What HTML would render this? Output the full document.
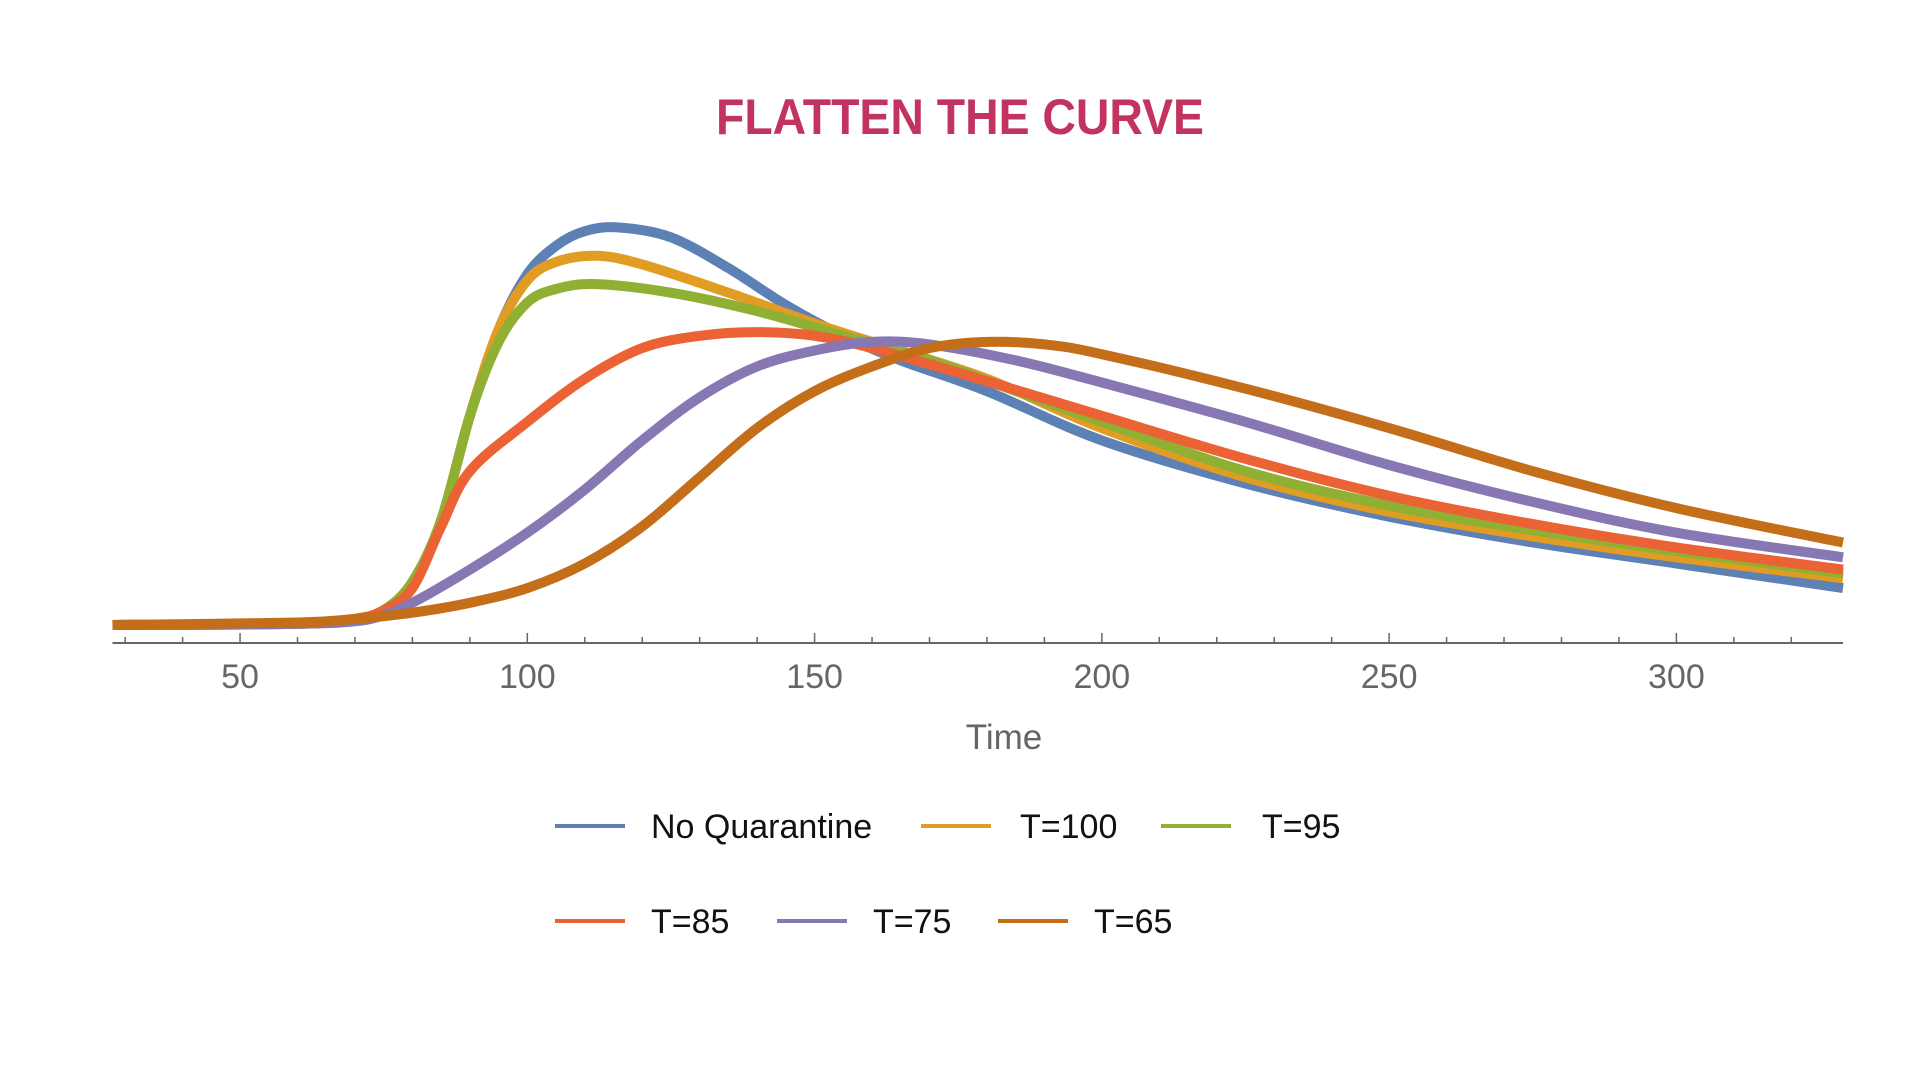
<!DOCTYPE html>
<html><head><meta charset="utf-8"><style>
html,body{margin:0;padding:0;background:#fff;}
svg{display:block;}
</style></head><body>
<svg id="chart" width="1920" height="1080" viewBox="0 0 1920 1080" xmlns="http://www.w3.org/2000/svg">
<text x="960" y="134" text-anchor="middle" font-family="'Liberation Sans', sans-serif" font-weight="bold" font-size="50" fill="#c2345f" textLength="488" lengthAdjust="spacingAndGlyphs">FLATTEN THE CURVE</text>
<g id="series"></g>
<g id="axis"></g>
<text x="1004" y="749" text-anchor="middle" font-family="'Liberation Sans', sans-serif" font-size="35" fill="#666">Time</text>
<g id="legend"></g>
</svg>
<script>
const seriesNames = ["No Quarantine","T=100","T=95","T=85","T=75","T=65"];
const seriesColors = ["#5e81b5","#e19c24","#8fb032","#eb6235","#8778b3","#c56e1a"];
const tickValues = [50,100,150,200,250,300];
const blueT = [27.8,60,70,75,80,85,90,95,100,105,110,116,125,135,145,155,165,180,200,225,250,275,300,329];
const blueV = [0,1,5,12,35,85,170,240,285,308,320,323,315,290,260,235,215,190,150,115,88,67,50,30];
const orangeT = [27.8,60,70,75,80,85,90,95,100,105,112,120,135,150,160,180,200,225,250,275,300,329];
const orangeV = [0,1,5,12,35,85,170,240,280,295,300,293,270,245,230,200,160,120,92,72,55,38];
const greenT = [27.8,60,70,75,80,85,90,95,100,105,112,125,140,155,170,200,225,250,275,300,329];
const greenV = [0,1,5,12,35,85,170,230,262,273,277,270,255,235,215,165,125,97,77,60,42];
const redT = [27.8,60,70,75,80,85,90,100,110,120,130,140,150,160,175,200,225,250,275,300,329];
const redV = [0,1,5,12,30,80,125,165,200,225,235,238,235,225,205,170,135,105,82,63,45];
const purpleT = [27.8,60,70,75,80,90,100,110,120,130,140,150,160,170,185,200,225,250,275,300,329];
const purpleV = [0,1,3,8,18,45,75,110,150,185,210,223,230,228,215,197,165,130,100,75,55];
const brownT = [27.8,60,70,80,90,100,110,120,130,140,150,160,170,180,190,200,225,250,275,300,329];
const brownV = [0,2,5,10,18,30,50,80,120,160,190,210,225,230,228,220,192,160,125,95,67];

const allT = [blueT,orangeT,greenT,redT,purpleT,brownT];
const allV = [blueV,orangeV,greenV,redV,purpleV,brownV];
const NS = "http://www.w3.org/2000/svg";
const xMin = 27.8, xMax = 329;
const X0 = 112.5, X1 = 1843;
function xScale(t){ return X0 + (t - xMin) * (X1 - X0) / (xMax - xMin); }
const Y0 = 625;
function yScale(v){ return Y0 - v / 0.8125; }

function pathFrom(ts, vs){
  const p = ts.map((t,i)=>[xScale(t), yScale(vs[i])]);
  let d = "M" + p[0][0].toFixed(1) + "," + p[0][1].toFixed(1);
  for (let i=0;i<p.length-1;i++){
    const p0 = p[i-1]||p[i], p1=p[i], p2=p[i+1], p3=p[i+2]||p2;
    const c1x = p1[0]+(p2[0]-p0[0])/6, c1y = p1[1]+(p2[1]-p0[1])/6;
    const c2x = p2[0]-(p3[0]-p1[0])/6, c2y = p2[1]-(p3[1]-p1[1])/6;
    d += " C"+c1x.toFixed(1)+","+c1y.toFixed(1)+" "+c2x.toFixed(1)+","+c2y.toFixed(1)+" "+p2[0].toFixed(1)+","+p2[1].toFixed(1);
  }
  return d;
}
const sg = document.getElementById("series");
for (let s=0;s<allT.length;s++){
  const el = document.createElementNS(NS,"path");
  el.setAttribute("d", pathFrom(allT[s], allV[s]));
  el.setAttribute("fill","none");
  el.setAttribute("stroke", seriesColors[s]);
  el.setAttribute("stroke-width","10");
  el.setAttribute("stroke-linecap","butt");
  
  
  sg.appendChild(el);
}
const ag = document.getElementById("axis");
const axisY = 643;
const base = document.createElementNS(NS,"line");
base.setAttribute("x1",X0); base.setAttribute("x2",X1);
base.setAttribute("y1",axisY); base.setAttribute("y2",axisY);
base.setAttribute("stroke","#666"); base.setAttribute("stroke-width","2");


ag.appendChild(base);
for (let t=30;t<=329;t+=10){
  const major = t%50===0;
  const tk = document.createElementNS(NS,"line");
  tk.setAttribute("x1",xScale(t)); tk.setAttribute("x2",xScale(t));
  tk.setAttribute("y1",axisY); tk.setAttribute("y2",axisY-(major?10:6));
  tk.setAttribute("stroke","#666"); tk.setAttribute("stroke-width","1.5");
  
  
  ag.appendChild(tk);
}
tickValues.forEach(v=>{
  const tx = document.createElementNS(NS,"text");
  tx.setAttribute("x",xScale(v)); tx.setAttribute("y",688);
  tx.setAttribute("text-anchor","middle");
  tx.setAttribute("font-family","'Liberation Sans', sans-serif");
  tx.setAttribute("font-size","34"); tx.setAttribute("fill","#666");
  tx.textContent = v;
  
  
  ag.appendChild(tx);
});
const legendPos = [[555,826,651],[921,826,1020],[1161,826,1262],[555,921,651],[777,921,873],[998,921,1094]];
const lg = document.getElementById("legend");
for (let s=0;s<seriesNames.length;s++){
  const [lx,ly,tx0] = legendPos[s];
  const g = document.createElementNS(NS,"g");
  
  
  const ln = document.createElementNS(NS,"line");
  ln.setAttribute("x1",lx); ln.setAttribute("x2",lx+70);
  ln.setAttribute("y1",ly); ln.setAttribute("y2",ly);
  ln.setAttribute("stroke",seriesColors[s]); ln.setAttribute("stroke-width","4");
  
  
  g.appendChild(ln);
  const tt = document.createElementNS(NS,"text");
  tt.setAttribute("x",tx0); tt.setAttribute("y",ly+12);
  tt.setAttribute("font-family","'Liberation Sans', sans-serif");
  tt.setAttribute("font-size","34"); tt.setAttribute("fill","#111");
  tt.textContent = seriesNames[s];
  
  
  g.appendChild(tt);
  lg.appendChild(g);
}
</script>
</body></html>
